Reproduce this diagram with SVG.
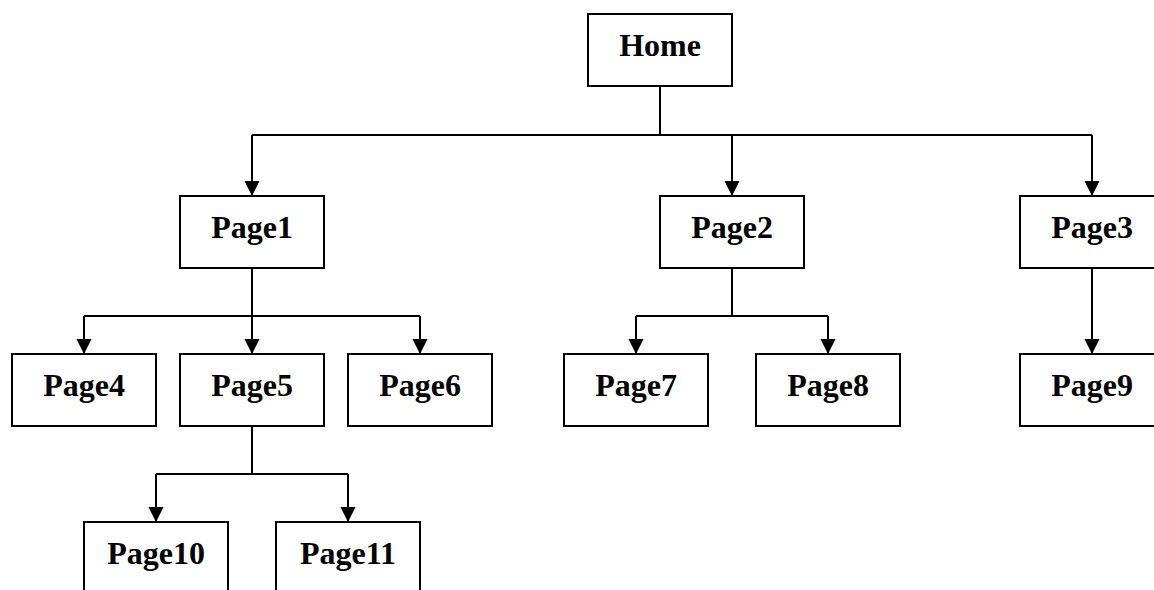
<svg xmlns="http://www.w3.org/2000/svg" width="1154" height="590" viewBox="0 0 1154 590">
  <style>
    .box { fill: #ffffff; stroke: #000000; stroke-width: 2; }
    .lbl { font-family: "Liberation Serif", "Times New Roman", serif; font-weight: bold; font-size: 32px; text-anchor: middle; fill: #000000; }
    .wire { fill: none; stroke: #000000; stroke-width: 2; }
    .drop { fill: none; stroke: #000000; stroke-width: 2; marker-end: url(#head); }
  </style>
  <defs>
    <marker id="head" markerUnits="userSpaceOnUse" markerWidth="16" markerHeight="16" viewBox="0 0 16 16" refX="15" refY="8" orient="auto">
      <polygon points="0,0.5 15,8 0,15.5" fill="#000000"/>
    </marker>
  </defs>
  <rect width="1154" height="590" fill="#ffffff"/>

  <!-- connectors -->
  <g id="connectors">
    <!-- Home to level 1 -->
    <polyline class="wire" points="660,86 660,135"/>
    <polyline class="wire" points="252,135 1092,135"/>
    <polyline class="drop" points="252,135 252,196"/>
    <polyline class="drop" points="732,135 732,196"/>
    <polyline class="drop" points="1092,135 1092,196"/>
    <!-- Page1 children -->
    <polyline class="wire" points="252,268 252,316"/>
    <polyline class="wire" points="84,316 420,316"/>
    <polyline class="drop" points="84,316 84,354"/>
    <polyline class="drop" points="252,316 252,354"/>
    <polyline class="drop" points="420,316 420,354"/>
    <!-- Page2 children -->
    <polyline class="wire" points="732,268 732,316"/>
    <polyline class="wire" points="636,316 828,316"/>
    <polyline class="drop" points="636,316 636,354"/>
    <polyline class="drop" points="828,316 828,354"/>
    <!-- Page3 child -->
    <polyline class="drop" points="1092,268 1092,354"/>
    <!-- Page5 children -->
    <polyline class="wire" points="252,426 252,474"/>
    <polyline class="wire" points="156,474 348,474"/>
    <polyline class="drop" points="156,474 156,522"/>
    <polyline class="drop" points="348,474 348,522"/>
  </g>

  <g id="home"><rect class="box" x="588" y="14" width="144" height="72"/><text class="lbl" x="660" y="56">Home</text></g>
  <g id="page1"><rect class="box" x="180" y="196" width="144" height="72"/><text class="lbl" x="252" y="238">Page1</text></g>
  <g id="page2"><rect class="box" x="660" y="196" width="144" height="72"/><text class="lbl" x="732" y="238">Page2</text></g>
  <g id="page3"><rect class="box" x="1020" y="196" width="144" height="72"/><text class="lbl" x="1092" y="238">Page3</text></g>
  <g id="page4"><rect class="box" x="12" y="354" width="144" height="72"/><text class="lbl" x="84" y="396">Page4</text></g>
  <g id="page5"><rect class="box" x="180" y="354" width="144" height="72"/><text class="lbl" x="252" y="396">Page5</text></g>
  <g id="page6"><rect class="box" x="348" y="354" width="144" height="72"/><text class="lbl" x="420" y="396">Page6</text></g>
  <g id="page7"><rect class="box" x="564" y="354" width="144" height="72"/><text class="lbl" x="636" y="396">Page7</text></g>
  <g id="page8"><rect class="box" x="756" y="354" width="144" height="72"/><text class="lbl" x="828" y="396">Page8</text></g>
  <g id="page9"><rect class="box" x="1020" y="354" width="144" height="72"/><text class="lbl" x="1092" y="396">Page9</text></g>
  <g id="page10"><rect class="box" x="84" y="522" width="144" height="72"/><text class="lbl" x="156" y="564">Page10</text></g>
  <g id="page11"><rect class="box" x="276" y="522" width="144" height="72"/><text class="lbl" x="348" y="564">Page11</text></g>
</svg>
